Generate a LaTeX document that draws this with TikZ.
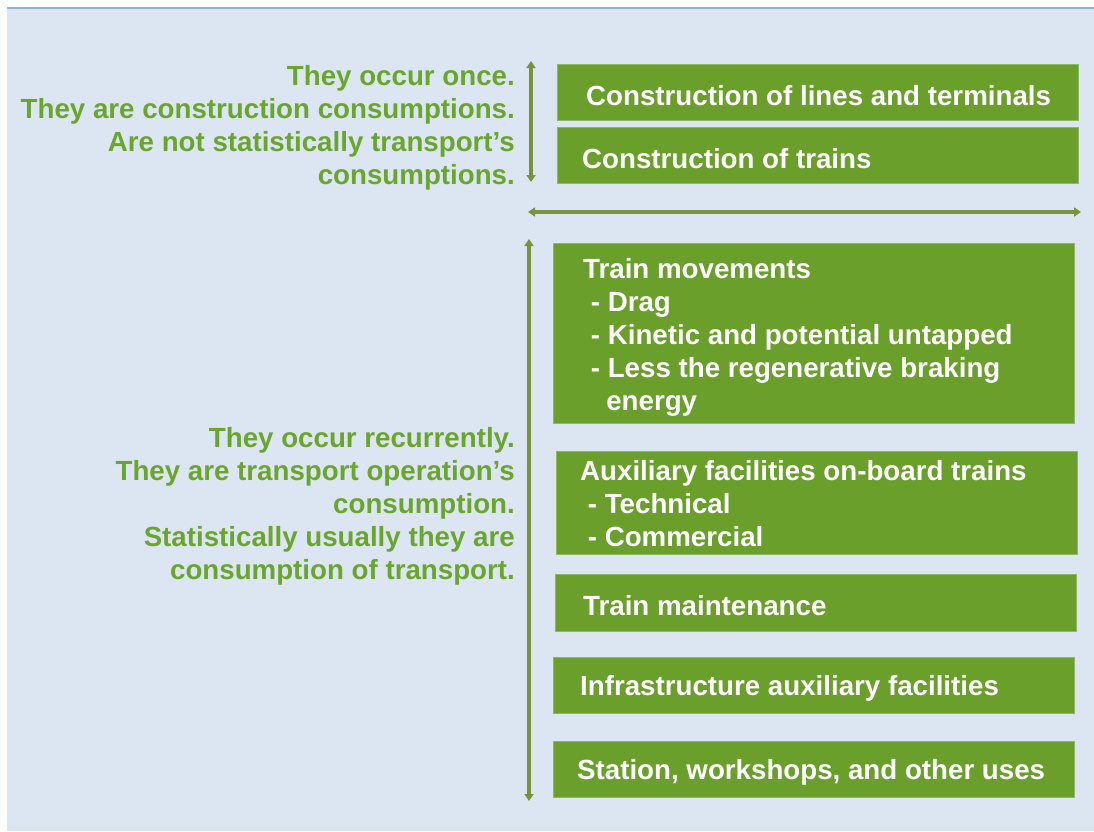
\documentclass[tikz,border=0pt]{standalone}
\usepackage{fontspec}
\setmainfont{Liberation Sans}
\usetikzlibrary{arrows.meta}
\definecolor{bg}{HTML}{DCE6F2}
\definecolor{topline}{HTML}{95B3D7}
\definecolor{boxgreen}{HTML}{6A9F2C}
\definecolor{boxedge}{HTML}{8DB860}
\definecolor{txtgreen}{HTML}{6AA52E}
\definecolor{arrgreen}{HTML}{77933C}
\tikzset{
  greenbox/.style={draw=boxedge, line width=0.8pt, fill=boxgreen, text=white,
    anchor=north west, minimum width=521pt, inner xsep=0pt, inner ysep=0pt},
  boxtext/.style={inner sep=0pt, text=white, align=left,
    font=\bfseries\fontsize{27.7}{33}\selectfont},
  sidetext/.style={text=txtgreen, anchor=east, align=right, inner sep=0pt,
    font=\bfseries\fontsize{27.7}{33}\selectfont},
  bracearrow/.style={draw=arrgreen, line width=3.4pt,
    {Triangle[length=7pt,width=9pt]}-{Triangle[length=7pt,width=9pt]}}
}
\begin{document}
\begin{tikzpicture}[x=1pt,y=-1pt]
\useasboundingbox (0,0) rectangle (1094,831);
\fill[bg] (7,8) rectangle (1094,831);
\draw[topline, line width=2.5pt] (7,8) -- (1094,8);

% upper group boxes
\node[greenbox, minimum height=56pt] (b1) at (557,64) {};
\node[boxtext, anchor=west] (t1) at ([xshift=29pt,yshift=-3pt]b1.west) {Construction of lines and terminals};
\node[greenbox, minimum height=56pt] (b2) at (557,127) {};
\node[boxtext, anchor=west] (t2) at ([xshift=25pt,yshift=-3pt]b2.west) {Construction of trains};

% lower group boxes
\node[greenbox, minimum height=180pt] (b3) at (553,243) {};
\node[boxtext, anchor=north west] (t3) at (583,258) {Train movements\\\ - Drag\\\ - Kinetic and potential untapped\\\ - Less the regenerative braking\\\ \ \ energy};
\node[greenbox, minimum height=103pt] (b4) at (556,451) {};
\node[boxtext, anchor=north west] (t4) at (580,460) {Auxiliary facilities on-board trains\\\ - Technical\\\ - Commercial};
\node[greenbox, minimum height=57pt] (b5) at (555,574) {};
\node[boxtext, anchor=west] (t5) at ([xshift=28pt,yshift=-3pt]b5.west) {Train maintenance};
\node[greenbox, minimum height=56pt] (b6) at (553,657) {};
\node[boxtext, anchor=west] (t6) at ([xshift=27pt,yshift=-3pt]b6.west) {Infrastructure auxiliary facilities};
\node[greenbox, minimum height=56pt] (b7) at (553,741) {};
\node[boxtext, anchor=west] (t7) at ([xshift=24pt,yshift=-3pt]b7.west) {Station, workshops, and other uses};

% side texts
\node[sidetext] (s1) at (515,128) {They occur once.\\They are construction consumptions.\\Are not statistically transport’s\\consumptions.};
\node[sidetext] (s2) at (515,506) {They occur recurrently.\\They are transport operation’s\\consumption.\\Statistically usually they are\\consumption of transport.};

% arrows
\coordinate (a1t) at (531,61);
\coordinate (a1b) at (531,182);
\coordinate (h1) at (528,212);
\coordinate (h2) at (1081,212);
\coordinate (a2t) at (529,239);
\coordinate (a2b) at (529,801);
\draw[bracearrow] (a1t) -- (a1b);
\draw[bracearrow] (h1) -- (h2);
\draw[bracearrow] (a2t) -- (a2b);
\end{tikzpicture}
\end{document}
